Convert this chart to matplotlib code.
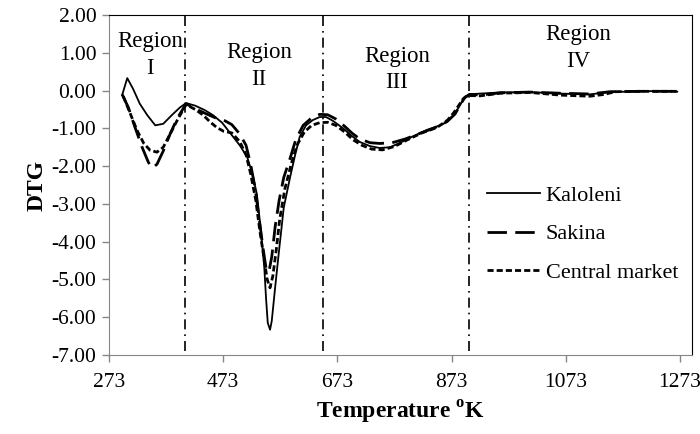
import numpy as np
import matplotlib
matplotlib.use('Agg')
import matplotlib.pyplot as plt

plt.rcParams['font.family'] = ['Liberation Serif', 'DejaVu Serif']

# temperature (K) / DTG values
T_kal = [296, 305, 315, 327, 340, 354, 368, 383, 397, 408, 424, 441, 455, 471, 485, 502, 515,
         525, 532, 539, 545, 548, 551, 555, 558, 564, 571, 579, 590, 599, 607, 618, 630, 642,
         653, 665, 683, 698, 712, 730, 747, 765, 783, 804, 830, 853, 865, 875, 884, 893, 903,
         923, 958, 1010, 1063, 1115, 1150, 1203, 1238, 1268]
dtg_kal = [-0.12, 0.33, 0.05, -0.35, -0.65, -0.92, -0.88, -0.65, -0.45, -0.33, -0.40, -0.52,
           -0.65, -0.85, -1.12, -1.45, -1.76, -2.25, -2.75, -3.7, -4.7, -5.5, -6.15, -6.33,
           -6.1, -5.2, -4.2, -3.1, -2.3, -1.7, -1.22, -0.92, -0.78, -0.70, -0.70, -0.80, -1.0,
           -1.2, -1.36, -1.47, -1.52, -1.50, -1.38, -1.22, -1.04, -0.92, -0.83, -0.68, -0.48,
           -0.25, -0.10, -0.08, -0.05, -0.04, -0.08, -0.10, -0.04, -0.02, -0.01, -0.03]

T_sak = [296, 307, 318, 331, 342, 349, 357, 368, 380, 392, 408, 424, 441, 459, 476, 488, 502,
         513, 521, 529, 536, 543, 548, 553, 558, 564, 571, 579, 590, 600, 613, 628, 642, 656,
         670, 686, 698, 712, 730, 747, 769, 792, 818, 844, 865, 879, 888, 896, 905, 923, 958,
         1010, 1063, 1115, 1150, 1203, 1268]
dtg_sak = [-0.10, -0.45, -0.95, -1.5, -1.9, -2.05, -1.95, -1.6, -1.15, -0.75, -0.35, -0.48,
           -0.60, -0.72, -0.80, -0.90, -1.15, -1.45, -1.95, -2.6, -3.4, -4.2, -4.7, -4.8, -4.4,
           -3.6, -2.9, -2.3, -1.8, -1.3, -0.92, -0.72, -0.63, -0.64, -0.75, -0.95, -1.12, -1.28,
           -1.38, -1.40, -1.38, -1.28, -1.13, -0.98, -0.82, -0.62, -0.38, -0.18, -0.10, -0.12,
           -0.06, -0.04, -0.07, -0.09, -0.03, -0.02, -0.02]

T_cen = [298, 310, 322, 334, 345, 357, 368, 380, 392, 408, 424, 438, 450, 462, 474, 488, 502,
         513, 521, 530, 537, 545, 550, 555, 560, 566, 572, 581, 592, 602, 615, 628, 642, 656,
         670, 686, 700, 716, 733, 752, 773, 796, 821, 847, 866, 877, 886, 893, 901, 923, 958,
         1010, 1063, 1115, 1141, 1159, 1203, 1268]
dtg_cen = [-0.15, -0.6, -1.05, -1.4, -1.58, -1.63, -1.5, -1.15, -0.8, -0.37, -0.5, -0.65,
           -0.83, -0.98, -1.08, -1.12, -1.35, -1.7, -2.2, -2.9, -3.7, -4.5, -5.0, -5.22, -4.9,
           -4.2, -3.4, -2.6, -1.95, -1.45, -1.1, -0.92, -0.85, -0.84, -0.92, -1.1, -1.3, -1.45,
           -1.55, -1.57, -1.48, -1.3, -1.12, -0.98, -0.78, -0.58, -0.38, -0.22, -0.13, -0.14,
           -0.07, -0.05, -0.12, -0.15, -0.10, -0.03, -0.02, -0.02]

region_bounds = [406, 648, 903]
region_nums = ['I', 'II', 'III', 'IV']
region_x = [345, 536, 777, 1094]
region_y1 = [1.15, 0.86, 0.76, 1.34]   # baseline of "Region"
region_y2 = [0.44, 0.15, 0.07, 0.62]   # baseline of numeral

x_ticks = [273, 473, 673, 873, 1073, 1273]
y_ticks = np.arange(-7, 2.01, 1.0)

fig = plt.figure(figsize=(7, 4.34), dpi=100)
ax = fig.add_axes([0.1557, 0.182, 0.833, 0.7834])

ax.plot(T_kal, dtg_kal, color='black', lw=1.3, label='Kaloleni')
ax.plot(T_sak, dtg_sak, color='black', lw=2.0, dashes=(7, 3), label='Sakina')
ax.plot(T_cen, dtg_cen, color='black', lw=2.0, dashes=(2.2, 1.1), label='Central market')

for b in region_bounds:
    ax.plot([b, b], [-6.9, 2.0], color='black', lw=1.2, ls='-.', dashes=(6, 3, 1, 3))

for num, tx, y1, y2 in zip(region_nums, region_x, region_y1, region_y2):
    ax.text(tx, y1, 'Region', ha='center', va='baseline', fontsize=16.5)
    ax.text(tx, y2, num, ha='center', va='baseline', fontsize=16.5)

ax.set_xlim(273, 1294)
ax.set_ylim(-7, 2)
ax.set_xticks(x_ticks)
ax.set_yticks(y_ticks)
ax.set_yticklabels(['{:.2f}'.format(v) for v in y_ticks])
ax.tick_params(axis='both', labelsize=15.5, color='#868686', direction='out', length=5, width=1)
ax.tick_params(axis='x', pad=8)
ax.tick_params(axis='y', pad=4)
for s in ['left', 'bottom']:
    ax.spines[s].set_color('#868686')
for s in ['top', 'right']:
    ax.spines[s].set_color('black')

ax.set_xlabel('Temperature $^{\\mathregular{o}}$K', fontsize=17, fontweight='bold', labelpad=5)
ax.set_ylabel('DTG', fontsize=17, fontweight='bold', labelpad=3)

ax.legend(loc='upper left', bbox_to_anchor=(0.633, 0.525), frameon=False, fontsize=16,
          handlelength=2.4, handletextpad=0.25, labelspacing=0.8, borderaxespad=0)

plt.savefig('out.png', dpi=100)
